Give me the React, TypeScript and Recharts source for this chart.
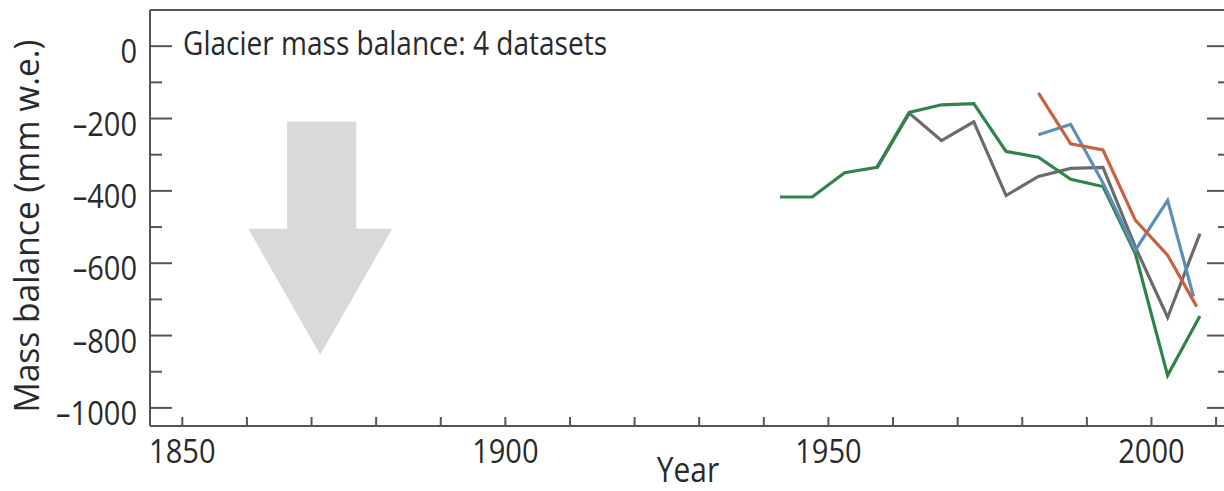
import React from 'react';
import { LineChart, Line, XAxis, YAxis, ReferenceArea } from 'recharts';

// pentad mid-years
const greenYears = [1942.5, 1947.5, 1952.5, 1957.5, 1962.5, 1967.5, 1972.5, 1977.5, 1982.5, 1987.5, 1992.5, 1997.5, 2002.5, 2007.5];
const greenValues = [-417, -417, -350, -335, -183, -162, -159, -291, -307, -368, -388, -573, -910, -746];

const grayYears = [1957.5, 1962.5, 1967.5, 1972.5, 1977.5, 1982.5, 1987.5, 1992.5, 1997.5, 2002.5, 2007.5];
const grayValues = [-338, -185, -261, -209, -413, -360, -338, -335, -555, -750, -518];

const blueYears = [1982.5, 1987.5, 1992.5, 1997.5, 2002.5, 2006.5];
const blueValues = [-245, -216, -378, -564, -426, -692];

const redYears = [1982.5, 1987.5, 1992.5, 1997.5, 2002.5, 2007];
const redValues = [-129, -270, -287, -481, -578, -720];

const xTicks = [1850, 1860, 1870, 1880, 1890, 1900, 1910, 1920, 1930, 1940, 1950, 1960, 1970, 1980, 1990, 2000, 2010];
const xTickLabels = [1850, 1900, 1950, 2000];
const yTicks = [-1000, -900, -800, -700, -600, -500, -400, -300, -200, -100, 0];
const yTickLabels = [-1000, -800, -600, -400, -200, 0];

// arrow box, in data units
const arrowYears = [1860.2, 1882.5];
const arrowValues = [-853, -208];

const AXIS = '#555';
const TEXT = '#2a2a2a';
const FONT = '"Open Sans", sans-serif';

const zip = (xs: number[], ys: number[]) => xs.map((year, i) => ({ year, value: ys[i] }));

const fmt = (v: number) => (v < 0 ? '\u2013' + Math.abs(v) : String(v));

// the source font is a narrow one, so squeeze Open Sans a bit
function Narrow({ x, y, anchor, size, children }: any) {
  return (
    <text
      transform={`translate(${x},${y}) scale(0.88,1)`}
      textAnchor={anchor}
      fontSize={size}
      fontFamily={FONT}
      fill={TEXT}
    >
      {children}
    </text>
  );
}

function XTick(props: any) {
  const { x, y, payload } = props;
  const v = payload.value;
  return (
    <g>
      <line x1={x} x2={x} y1={y} y2={y - 9} stroke={AXIS} strokeWidth={2} />
      {xTickLabels.includes(v) && (
        <Narrow x={x} y={y + 37} anchor="middle" size={33}>
          {v}
        </Narrow>
      )}
    </g>
  );
}

function YTickLeft(props: any) {
  const { x, y, payload } = props;
  const v = payload.value;
  const major = yTickLabels.includes(v);
  return (
    <g>
      <line x1={x} x2={x + (major ? 22 : 12)} y1={y} y2={y} stroke={AXIS} strokeWidth={2} />
      {major && (
        <Narrow x={x - 13} y={y + 17} anchor="end" size={33}>
          {fmt(v)}
        </Narrow>
      )}
    </g>
  );
}

function YTickRight(props: any) {
  const { x, y, payload } = props;
  const major = yTickLabels.includes(payload.value);
  return <line x1={x} x2={x - (major ? 22 : 11)} y1={y} y2={y} stroke={AXIS} strokeWidth={2} />;
}

function Arrow(props: any) {
  const { x, y, width: w, height: h } = props;
  const s0 = x + w * 0.27;
  const s1 = x + w * 0.75;
  const hy = y + h * 0.46;
  const pts = [
    [s0, y], [s1, y], [s1, hy], [x + w, hy], [x + w * 0.5, y + h], [x, hy], [s0, hy],
  ].map((p) => p.join(',')).join(' ');
  return <polygon points={pts} fill="#d9d9d9" />;
}

export default function App() {
  return (
    <div style={{ position: 'absolute', left: 0, top: 0, width: 1224, height: 491, overflow: 'hidden', background: '#fff' }}>
      <LineChart width={1240} height={491} margin={{ top: 9, right: 10, bottom: 64, left: 149 }}>
        <XAxis
          xAxisId="b"
          type="number"
          dataKey="year"
          domain={[1845, 2012]}
          ticks={xTicks}
          tick={<XTick />}
          tickLine={false}
          tickSize={0}
          tickMargin={0}
          height={1}
          axisLine={{ stroke: AXIS, strokeWidth: 2 }}
          allowDataOverflow
        />
        <XAxis
          xAxisId="t"
          orientation="top"
          type="number"
          dataKey="year"
          domain={[1845, 2012]}
          ticks={xTicks}
          tick={() => <g />}
          tickLine={false}
          height={1}
          axisLine={{ stroke: AXIS, strokeWidth: 2 }}
          allowDataOverflow
        />
        <YAxis
          yAxisId="l"
          type="number"
          domain={[-1050, 100]}
          ticks={yTicks}
          tick={<YTickLeft />}
          tickLine={false}
          tickSize={0}
          tickMargin={0}
          width={1}
          axisLine={{ stroke: AXIS, strokeWidth: 2 }}
          allowDataOverflow
        />
        <YAxis
          yAxisId="r"
          orientation="right"
          type="number"
          domain={[-1050, 100]}
          ticks={yTicks}
          tick={<YTickRight />}
          tickLine={false}
          tickSize={0}
          tickMargin={0}
          width={1}
          axisLine={{ stroke: AXIS, strokeWidth: 2 }}
          allowDataOverflow
        />
        <ReferenceArea
          xAxisId="b"
          yAxisId="l"
          x1={arrowYears[0]}
          x2={arrowYears[1]}
          y1={arrowValues[0]}
          y2={arrowValues[1]}
          shape={<Arrow />}
        />
        <Line xAxisId="b" yAxisId="l" data={zip(grayYears, grayValues)} dataKey="value" stroke="#6b6b6b" strokeWidth={3.2} dot={false} isAnimationActive={false} />
        <Line xAxisId="b" yAxisId="l" data={zip(greenYears, greenValues)} dataKey="value" stroke="#2f8549" strokeWidth={3.2} dot={false} isAnimationActive={false} />
        <Line xAxisId="b" yAxisId="l" data={zip(blueYears, blueValues)} dataKey="value" stroke="#5b8fb9" strokeWidth={3.2} dot={false} isAnimationActive={false} />
        <Line xAxisId="b" yAxisId="l" data={zip(redYears, redValues)} dataKey="value" stroke="#c8623f" strokeWidth={3.2} dot={false} isAnimationActive={false} />
      </LineChart>
      <svg width={1224} height={491} style={{ position: 'absolute', left: 0, top: 0, pointerEvents: 'none' }}>
        <text x={183} y={55} fontSize={33} fontFamily={FONT} fill={TEXT} textLength={424} lengthAdjust="spacingAndGlyphs">
          Glacier mass balance: 4 datasets
        </text>
        <text
          x={39}
          y={226}
          fontSize={34}
          fontFamily={FONT}
          fill={TEXT}
          textAnchor="middle"
          transform="rotate(-90 39 226)"
          textLength={373}
          lengthAdjust="spacingAndGlyphs"
        >
          Mass balance (mm w.e.)
        </text>
        <Narrow x={688} y={482} anchor="middle" size={34}>
          Year
        </Narrow>
      </svg>
    </div>
  );
}
